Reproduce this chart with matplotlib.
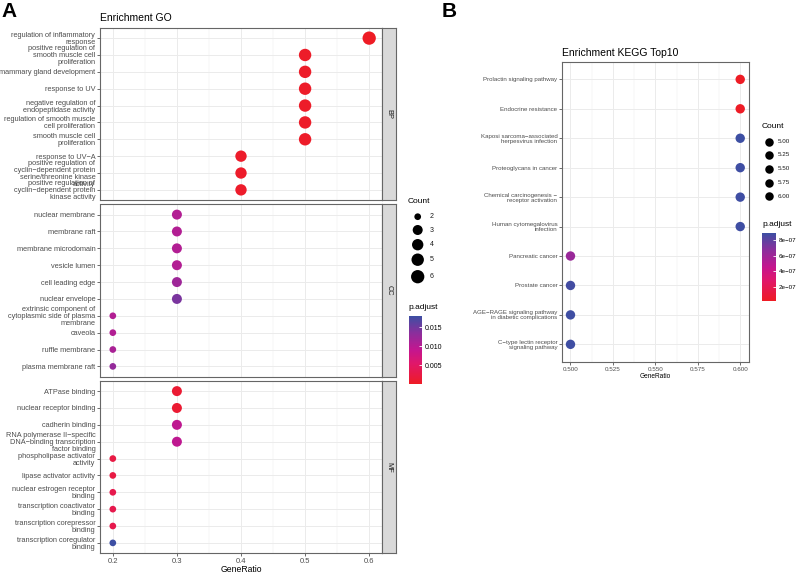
import numpy as np
import matplotlib
matplotlib.use("Agg")
import matplotlib.pyplot as plt
from matplotlib.colors import LinearSegmentedColormap, Normalize
from matplotlib.cm import ScalarMappable

plt.rcParams['font.family'] = ['Liberation Sans', 'DejaVu Sans']

# Data: GO enrichment (panel A), top to bottom inside each facet
bp_terms = ["regulation of inflammatory\nresponse",
            "positive regulation of\nsmooth muscle cell\nproliferation",
            "mammary gland development",
            "response to UV",
            "negative regulation of\nendopeptidase activity",
            "regulation of smooth muscle\ncell proliferation",
            "smooth muscle cell\nproliferation",
            "response to UV\u2212A",
            "positive regulation of\ncyclin\u2212dependent protein\nserine/threonine kinase\nactivity",
            "positive regulation of\ncyclin\u2212dependent protein\nkinase activity"]
bp_ratio = [0.6, 0.5, 0.5, 0.5, 0.5, 0.5, 0.5, 0.4, 0.4, 0.4]
bp_count = [6, 5, 5, 5, 5, 5, 5, 4, 4, 4]
bp_padj = [0.0001, 0.0004, 0.0004, 0.0004, 0.0004, 0.0004, 0.0004, 0.0006, 0.0006, 0.0006]

cc_terms = ["nuclear membrane", "membrane raft", "membrane microdomain",
            "vesicle lumen", "cell leading edge", "nuclear envelope",
            "extrinsic component of\ncytoplasmic side of plasma\nmembrane",
            "caveola", "ruffle membrane", "plasma membrane raft"]
cc_ratio = [0.3, 0.3, 0.3, 0.3, 0.3, 0.3, 0.2, 0.2, 0.2, 0.2]
cc_count = [3, 3, 3, 3, 3, 3, 2, 2, 2, 2]
cc_padj = [0.0105, 0.0105, 0.0105, 0.0105, 0.0120, 0.0145, 0.0105, 0.0105, 0.0112, 0.0128]

mf_terms = ["ATPase binding", "nuclear receptor binding", "cadherin binding",
            "RNA polymerase II\u2212specific\nDNA\u2212binding transcription\nfactor binding",
            "phospholipase activator\nactivity", "lipase activator activity",
            "nuclear estrogen receptor\nbinding", "transcription coactivator\nbinding",
            "transcription corepressor\nbinding", "transcription coregulator\nbinding"]
mf_ratio = [0.3, 0.3, 0.3, 0.3, 0.2, 0.2, 0.2, 0.2, 0.2, 0.2]
mf_count = [3, 3, 3, 3, 2, 2, 2, 2, 2, 2]
mf_padj = [0.0012, 0.0012, 0.0095, 0.0095, 0.0025, 0.0025, 0.0032, 0.0032, 0.0032, 0.0180]

go_xticks = [0.2, 0.3, 0.4, 0.5, 0.6]
go_cbar_ticks = [0.005, 0.010, 0.015]
go_count_legend = [2, 3, 4, 5, 6]

# Data: KEGG top10 (panel B)
kegg_terms = ["Prolactin signaling pathway", "Endocrine resistance",
              "Kaposi sarcoma\u2212associated\nherpesvirus infection",
              "Proteoglycans in cancer",
              "Chemical carcinogenesis \u2212\nreceptor activation",
              "Human cytomegalovirus\ninfection", "Pancreatic cancer", "Prostate cancer",
              "AGE\u2212RAGE signaling pathway\nin diabetic complications",
              "C\u2212type lectin receptor\nsignaling pathway"]
kegg_ratio = [0.6, 0.6, 0.6, 0.6, 0.6, 0.6, 0.5, 0.5, 0.5, 0.5]
kegg_count = [6, 6, 6, 6, 6, 6, 5, 5, 5, 5]
kegg_padj = [2.0e-08, 2.5e-08, 8.9e-07, 8.8e-07, 8.8e-07, 8.8e-07, 6.2e-07, 8.7e-07, 8.8e-07, 8.8e-07]
kegg_xticks = [0.500, 0.525, 0.550, 0.575, 0.600]
kegg_cbar_ticks = [2e-07, 4e-07, 6e-07, 8e-07]
kegg_count_legend = [5.00, 5.25, 5.50, 5.75, 6.00]

# Styling
W, H = 800, 573
cmap = LinearSegmentedColormap.from_list(
    "padj", [(0, "#EE1C25"), (0.3, "#E0176A"), (0.5, "#C4168F"),
             (0.75, "#8B2E9C"), (1, "#3D4FA3")])
GRID = "#EBEBEB"
BORDER = "#666666"
AXTXT = "#4D4D4D"

fig = plt.figure(figsize=(8, 5.73), dpi=100)


def px_axes(x0, y0, x1, y1):
    return fig.add_axes([x0 / W, 1 - y1 / H, (x1 - x0) / W, (y1 - y0) / H])


def dot_px(c):
    # ggplot area scale: rescale counts, sqrt, map to diameter range
    return 6.7 + 6.6 * np.sqrt((np.asarray(c, float) - 2) / 4)


def px_to_s(d):
    return (np.asarray(d) * 72 / 100) ** 2


def style_panel(ax, xlim, xticks, xminor, nrow, fs_y):
    ax.set_xlim(xlim)
    ax.set_ylim(nrow - 0.4, -0.6)
    ax.set_xticks(xticks)
    ax.set_xticks(xminor, minor=True)
    ax.set_yticks(range(nrow))
    ax.grid(True, which="major", color=GRID, lw=0.7, zorder=0)
    ax.grid(True, which="minor", axis="x", color=GRID, lw=0.35, zorder=0)
    ax.set_axisbelow(True)
    for s in ax.spines.values():
        s.set_color(BORDER)
        s.set_linewidth(0.8)
    ax.tick_params(which="major", length=2.2, width=0.5, color="#333333",
                   labelsize=fs_y, labelcolor=AXTXT, pad=1.2)
    ax.tick_params(which="minor", length=0)


norm_go = Normalize(min(bp_padj), max(mf_padj))
facets = [("BP", bp_terms, bp_ratio, bp_count, bp_padj, 28, 200),
          ("CC", cc_terms, cc_ratio, cc_count, cc_padj, 204.5, 376.5),
          ("MF", mf_terms, mf_ratio, mf_count, mf_padj, 381, 553)]
for name, terms, ratio, count, padj, y0, y1 in facets:
    ax = px_axes(100, y0, 382, y1)
    style_panel(ax, (0.18, 0.62), go_xticks, [0.25, 0.35, 0.45, 0.55], len(terms), 5.3)
    ax.scatter(ratio, range(len(terms)), s=px_to_s(dot_px(count)),
               c=padj, cmap=cmap, norm=norm_go, linewidths=0, zorder=3)
    ax.set_yticklabels(terms, linespacing=1.0)
    if name == "MF":
        ax.set_xticklabels([f"{t:.1f}" for t in go_xticks], fontsize=5.5)
        ax.set_xlabel("GeneRatio", fontsize=6.2, labelpad=0.5)
    else:
        ax.tick_params(axis="x", labelbottom=False, length=0)
    if name == "BP":
        ax.set_title("Enrichment GO", loc="left", fontsize=7.5, pad=5)
    st = px_axes(382, y0, 396, y1)
    st.set_facecolor("#D9D9D9")
    st.set_xticks([])
    st.set_yticks([])
    for s in st.spines.values():
        s.set_color(BORDER)
        s.set_linewidth(0.8)
    st.text(0.5, 0.5, name, rotation=270, ha="center", va="center",
            fontsize=5.3, color="#1A1A1A", transform=st.transAxes)

# Panel B
axb = px_axes(562, 61.7, 748.7, 362)
style_panel(axb, (0.495, 0.605), kegg_xticks,
            [0.5125, 0.5375, 0.5625, 0.5875], len(kegg_terms), 4.4)
axb.scatter(kegg_ratio, range(len(kegg_terms)), s=px_to_s(9.4),
            c=kegg_padj, cmap=cmap, norm=Normalize(min(kegg_padj), max(kegg_padj)),
            linewidths=0, zorder=3)
axb.set_yticklabels(kegg_terms, linespacing=1.0)
axb.set_xticklabels([f"{t:.3f}" for t in kegg_xticks], fontsize=4.5)
axb.set_xlabel("GeneRatio", fontsize=4.7, labelpad=1)
axb.set_title("Enrichment KEGG Top10", loc="left", fontsize=7.5, pad=4)

# Overlay for legends and panel tags (pixel coordinates)
ov = fig.add_axes([0, 0, 1, 1])
ov.set_xlim(0, W)
ov.set_ylim(H, 0)
ov.axis("off")
ov.patch.set_alpha(0)
ov.text(1, 2, "A", fontsize=15, fontweight="bold", va="top", ha="left")
ov.text(442, 2, "B", fontsize=15, fontweight="bold", va="top", ha="left")

# Panel A legends
ov.text(408, 201.7, "Count", fontsize=6, va="center")
ly = [216.7, 230, 244.7, 259.7, 276.7]
ov.scatter([417.7] * 5, ly, s=px_to_s(dot_px(go_count_legend)), c="black", linewidths=0)
for v, y in zip(go_count_legend, ly):
    ov.text(430, y, str(v), fontsize=5, va="center", color="#1A1A1A")
ov.text(408, 307.7, "p.adjust", fontsize=6, va="center")
cax = px_axes(408.7, 316, 422.3, 384)
cb = fig.colorbar(ScalarMappable(norm_go, cmap), cax=cax, ticks=go_cbar_ticks)
cb.set_ticklabels([f"{t:.3f}" for t in go_cbar_ticks])
cb.outline.set_visible(False)
cax.tick_params(length=2.5, color="white", width=0.6, direction="in", labelsize=5, pad=2)

# Panel B legends
ov.text(762, 126.7, "Count", fontsize=6, va="center")
ky = [141.7, 155, 169, 182.7, 196.3]
ov.scatter([769] * 5, ky, s=px_to_s(8.5), c="black", linewidths=0)
for v, y in zip(kegg_count_legend, ky):
    ov.text(778, y, f"{v:.2f}", fontsize=4.5, va="center", color="#1A1A1A")
ov.text(762, 224.5, "p.adjust", fontsize=6, va="center")
caxb = px_axes(762, 233, 775.7, 300.7)
cbb = fig.colorbar(ScalarMappable(Normalize(min(kegg_padj), max(kegg_padj)), cmap),
                   cax=caxb, ticks=kegg_cbar_ticks)
cbb.set_ticklabels(["2e\u221207", "4e\u221207", "6e\u221207", "8e\u221207"])
cbb.outline.set_visible(False)
caxb.tick_params(length=2.5, color="white", width=0.6, direction="in", labelsize=4.5, pad=2)

fig.savefig("out.png", dpi=100)
